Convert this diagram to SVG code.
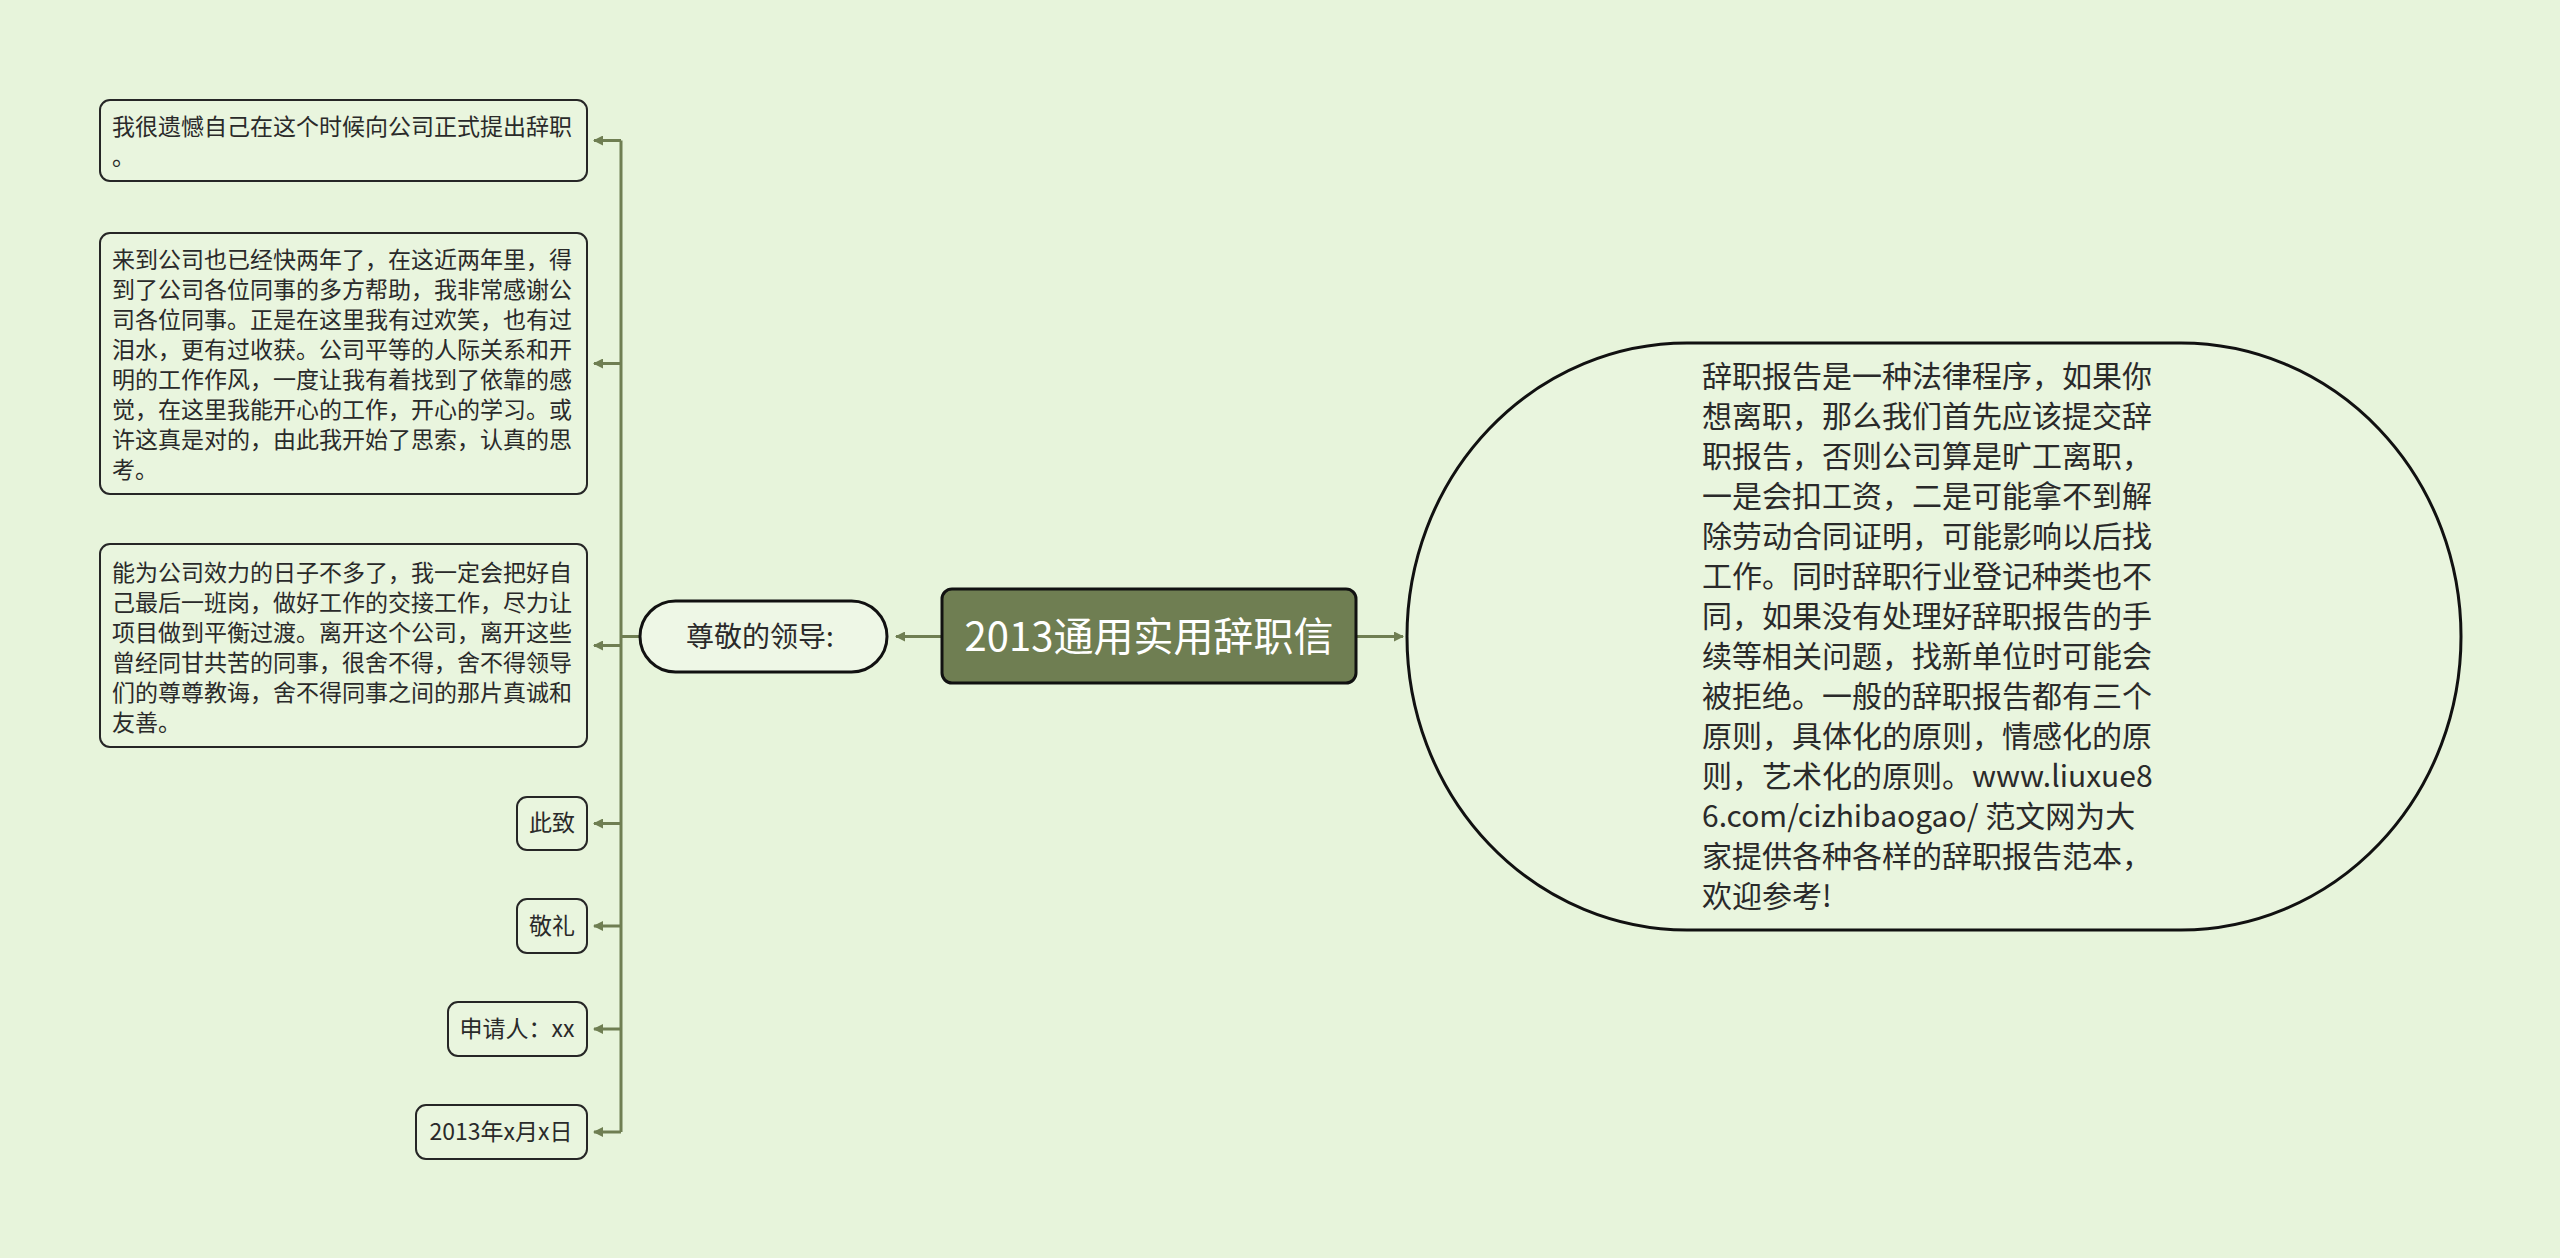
<svg xmlns="http://www.w3.org/2000/svg" width="2560" height="1258" viewBox="0 0 2560 1258">
<style>
text{font-family:"Noto Sans CJK SC","Microsoft YaHei",sans-serif;fill:#2a2a2a}
.box{fill:#e9f5de;stroke:#262626;stroke-width:2}
.t23{font-size:23px}
.conn{fill:none;stroke:#6f7e52;stroke-width:3}
</style>
<defs>
<marker id="ah" viewBox="0 0 10 10" refX="9" refY="5" markerWidth="10" markerHeight="10" markerUnits="userSpaceOnUse" orient="auto">
<path d="M0,0 L10,5 L0,10 z" fill="#6f7e52"/>
</marker>
</defs>
<rect width="2560" height="1258" fill="#e7f4db"/>
<g id="connectors">
<path class="conn" d="M942,636.5 H896" marker-end="url(#ah)"/>
<path class="conn" d="M1356,636.5 H1403" marker-end="url(#ah)"/>
<path class="conn" d="M640,636.5 H621"/>
<path class="conn" d="M621,140.5 V1132"/>
<path class="conn" d="M621,140.5 H594" marker-end="url(#ah)"/>
<path class="conn" d="M621,363.5 H594" marker-end="url(#ah)"/>
<path class="conn" d="M621,645.5 H594" marker-end="url(#ah)"/>
<path class="conn" d="M621,823.5 H594" marker-end="url(#ah)"/>
<path class="conn" d="M621,926 H594" marker-end="url(#ah)"/>
<path class="conn" d="M621,1029 H594" marker-end="url(#ah)"/>
<path class="conn" d="M621,1132 H594" marker-end="url(#ah)"/>
</g>
<g id="root">
<rect x="942" y="589" width="414" height="94" rx="10" fill="#6f7e52" stroke="#111" stroke-width="3"/>
<text x="1149" y="651" font-size="40" text-anchor="middle" style="fill:#ffffff">2013通用实用辞职信</text>
</g>
<g id="n-leader">
<rect x="640" y="601" width="247" height="71" rx="35.5" fill="#eef7e6" stroke="#111" stroke-width="3"/>
<text x="760" y="647" font-size="28" text-anchor="middle">尊敬的领导:</text>
</g>
<g id="n-intro">
<rect x="1407" y="343" width="1054" height="587" rx="280" ry="293.5" fill="#e9f5de" stroke="#111" stroke-width="3"/>
<text font-size="30" x="1702">
<tspan x="1702" y="387">辞职报告是一种法律程序，如果你</tspan>
<tspan x="1702" y="427">想离职，那么我们首先应该提交辞</tspan>
<tspan x="1702" y="467">职报告，否则公司算是旷工离职，</tspan>
<tspan x="1702" y="507">一是会扣工资，二是可能拿不到解</tspan>
<tspan x="1702" y="547">除劳动合同证明，可能影响以后找</tspan>
<tspan x="1702" y="587">工作。同时辞职行业登记种类也不</tspan>
<tspan x="1702" y="627">同，如果没有处理好辞职报告的手</tspan>
<tspan x="1702" y="667">续等相关问题，找新单位时可能会</tspan>
<tspan x="1702" y="707">被拒绝。一般的辞职报告都有三个</tspan>
<tspan x="1702" y="747">原则，具体化的原则，情感化的原</tspan>
<tspan x="1702" y="787">则，艺术化的原则。www.liuxue8</tspan>
<tspan x="1702" y="827">6.com/cizhibaogao/ 范文网为大</tspan>
<tspan x="1702" y="867">家提供各种各样的辞职报告范本，</tspan>
<tspan x="1702" y="907">欢迎参考!</tspan>
</text>
</g>
<g id="n-1">
<rect class="box" x="100" y="100" width="487" height="81" rx="10"/>
<text class="t23" x="112">
<tspan x="112" y="135">我很遗憾自己在这个时候向公司正式提出辞职</tspan>
<tspan x="112" y="165">。</tspan>
</text>
</g>
<g id="n-2">
<rect class="box" x="100" y="233" width="487" height="261" rx="10"/>
<text class="t23" x="112">
<tspan x="112" y="268">来到公司也已经快两年了，在这近两年里，得</tspan>
<tspan x="112" y="298">到了公司各位同事的多方帮助，我非常感谢公</tspan>
<tspan x="112" y="328">司各位同事。正是在这里我有过欢笑，也有过</tspan>
<tspan x="112" y="358">泪水，更有过收获。公司平等的人际关系和开</tspan>
<tspan x="112" y="388">明的工作作风，一度让我有着找到了依靠的感</tspan>
<tspan x="112" y="418">觉，在这里我能开心的工作，开心的学习。或</tspan>
<tspan x="112" y="448">许这真是对的，由此我开始了思索，认真的思</tspan>
<tspan x="112" y="478">考。</tspan>
</text>
</g>
<g id="n-3">
<rect class="box" x="100" y="544" width="487" height="203" rx="10"/>
<text class="t23" x="112">
<tspan x="112" y="581">能为公司效力的日子不多了，我一定会把好自</tspan>
<tspan x="112" y="611">己最后一班岗，做好工作的交接工作，尽力让</tspan>
<tspan x="112" y="641">项目做到平衡过渡。离开这个公司，离开这些</tspan>
<tspan x="112" y="671">曾经同甘共苦的同事，很舍不得，舍不得领导</tspan>
<tspan x="112" y="701">们的尊尊教诲，舍不得同事之间的那片真诚和</tspan>
<tspan x="112" y="731">友善。</tspan>
</text>
</g>
<g id="n-4">
<rect class="box" x="517" y="797" width="70" height="53" rx="10"/>
<text class="t23" x="552" y="831" text-anchor="middle">此致</text>
</g>
<g id="n-5">
<rect class="box" x="517" y="899" width="70" height="54" rx="10"/>
<text class="t23" x="552" y="934" text-anchor="middle">敬礼</text>
</g>
<g id="n-6">
<rect class="box" x="448" y="1002" width="139" height="54" rx="10"/>
<text class="t23" x="517" y="1037" text-anchor="middle">申请人：xx</text>
</g>
<g id="n-7">
<rect class="box" x="416" y="1105" width="171" height="54" rx="10"/>
<text class="t23" x="501" y="1140" text-anchor="middle">2013年x月x日</text>
</g>
</svg>
